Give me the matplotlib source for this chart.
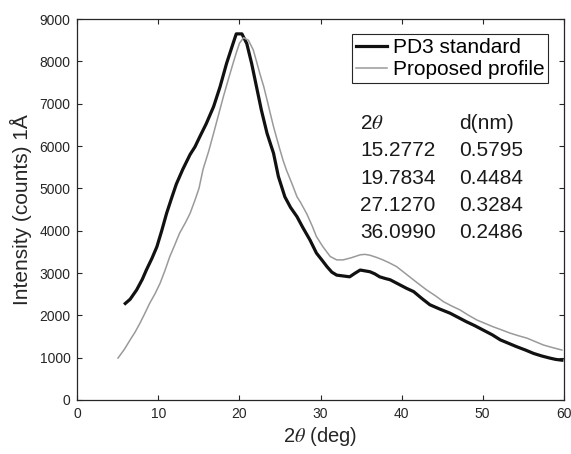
import matplotlib
matplotlib.use('Agg')
import matplotlib.pyplot as plt

plt.rcParams['font.family'] = ['Liberation Sans', 'DejaVu Sans']
plt.rcParams['mathtext.fontset'] = 'stix'

# PD3 standard (black)
pd3_x = [5.9, 6.5, 7.3, 8.0, 8.5, 9.2, 9.8, 10.4, 11.0, 11.6, 12.2, 13.0, 13.9, 14.5,
         15.1, 15.9, 16.8, 17.6, 18.4, 19.2, 19.6, 20.3, 20.9, 21.5, 22.1, 22.7, 23.4,
         24.2, 24.8, 25.6, 26.3, 27.1, 27.8, 28.7, 29.5, 30.2, 30.8, 31.4, 32.0, 32.8,
         33.6, 34.3, 34.9, 35.5, 36.1, 36.7, 37.3, 38.0, 38.6, 39.2, 39.8, 40.6, 41.5,
         42.5, 43.5, 44.7, 46.0, 47.0, 48.0, 49.0, 50.1, 51.2, 52.2, 53.2, 54.2, 55.3,
         56.3, 57.3, 58.3, 59.0, 59.8]
pd3_y = [2280, 2380, 2600, 2850, 3070, 3350, 3620, 4000, 4410, 4760, 5100, 5450, 5800, 5980,
         6220, 6530, 6930, 7400, 7950, 8420, 8650, 8650, 8420, 7950, 7400, 6850, 6300,
         5830, 5280, 4800, 4550, 4330, 4080, 3780, 3470, 3300, 3150, 3020, 2950, 2930,
         2910, 3000, 3070, 3050, 3030, 2980, 2910, 2870, 2840, 2780, 2720, 2640, 2560,
         2400, 2250, 2150, 2050, 1950, 1850, 1760, 1650, 1540, 1420, 1340, 1260, 1180,
         1100, 1040, 990, 960, 940]

# Proposed profile (gray)
prop_x = [5.0, 5.8, 6.5, 7.1, 7.7, 8.3, 8.9, 9.6, 10.2, 10.8, 11.4, 12.0, 12.6, 13.3,
          13.9, 14.5, 15.0, 15.5, 16.2, 16.8, 17.4, 18.0, 18.6, 19.2, 19.6, 20.0, 20.5,
          21.1, 21.7, 22.1, 22.5, 23.0, 23.4, 23.8, 24.2, 24.6, 25.0, 25.4, 25.8, 26.5,
          27.1, 27.5, 28.3, 29.0, 29.5, 30.3, 31.2, 32.0, 32.8, 33.8, 34.9, 35.5, 36.1,
          36.9, 37.7, 38.5, 39.4, 40.2, 41.0, 42.0, 43.1, 44.2, 45.2, 46.2, 47.2, 48.2,
          49.3, 50.3, 51.3, 52.3, 53.4, 54.4, 55.5, 56.5, 57.5, 58.6, 59.8]
prop_y = [990, 1200, 1420, 1600, 1810, 2040, 2280, 2520, 2760, 3060, 3390, 3660, 3940, 4180,
          4410, 4720, 5000, 5450, 5880, 6300, 6730, 7160, 7560, 7950, 8200, 8430, 8560,
          8500, 8270, 8000, 7720, 7400, 7090, 6770, 6460, 6180, 5910, 5650, 5430, 5100,
          4800, 4680, 4400, 4100, 3860, 3620, 3390, 3310, 3310, 3360, 3430, 3440, 3420,
          3370, 3310, 3240, 3150, 3030, 2910, 2760, 2600, 2460, 2320, 2220, 2130, 2010,
          1890, 1810, 1730, 1660, 1580, 1520, 1460, 1380, 1300, 1240, 1180]

table_head = ['2$\\theta$', 'd(nm)']
table_2theta = ['15.2772', '19.7834', '27.1270', '36.0990']
table_d = ['0.5795', '0.4484', '0.3284', '0.2486']

fig = plt.figure(figsize=(5.71, 4.54), dpi=100)
ax = fig.add_axes([0.1357, 0.119, 0.8512, 0.839])

ax.plot(pd3_x, pd3_y, color='#111111', lw=2.3, label='PD3 standard')
ax.plot(prop_x, prop_y, color='#9a9a9a', lw=1.1, label='Proposed profile')

ax.set_xlim(0, 60)
ax.set_ylim(0, 9000)
ax.set_xticks(range(0, 61, 10))
ax.set_yticks(range(0, 9001, 1000))
ax.tick_params(direction='in', length=3.5, width=0.8, labelsize=10,
               top=True, right=True, pad=5, colors='#262626')
for s in ax.spines.values():
    s.set_linewidth(0.9)
    s.set_color('#262626')

ax.set_xlabel('2$\\theta$ (deg)', fontsize=14.5, color='#262626', labelpad=3)
ax.set_ylabel('Intensity (counts) 1Å', fontsize=15, color='#262626', labelpad=5)

leg = ax.legend(loc='upper right', bbox_to_anchor=(0.969, 0.961), fontsize=15,
                fancybox=False, framealpha=1, edgecolor='#262626',
                handlelength=1.5, handletextpad=0.25, borderpad=0.2, labelspacing=0.15,
                borderaxespad=0)
leg.get_frame().set_linewidth(0.8)

ax.text(34.9, 6537, table_head[0], fontsize=15, va='center', color='#1a1a1a')
ax.text(47.1, 6537, table_head[1], fontsize=15, va='center', color='#1a1a1a')
rows_y = [5906, 5228, 4588, 3957]
for ty, a, b in zip(rows_y, table_2theta, table_d):
    ax.text(34.9, ty, a, fontsize=15, va='center', color='#1a1a1a')
    ax.text(47.1, ty, b, fontsize=15, va='center', color='#1a1a1a')

fig.savefig('out.png', dpi=100)
